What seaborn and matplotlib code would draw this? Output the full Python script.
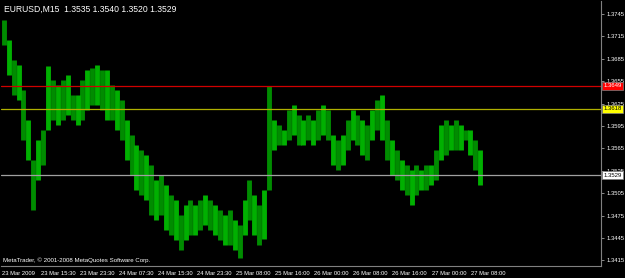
import numpy as np
import pandas as pd
import matplotlib
matplotlib.use("Agg")
import matplotlib.pyplot as plt
import matplotlib.transforms as mtransforms
import seaborn as sns

# ---- data (hourly high / low) ----
highs = [1.3737, 1.3710, 1.3683, 1.3677, 1.3643, 1.3603, 1.3549, 1.3576, 1.3590, 1.3675,
         1.3657, 1.3650, 1.3657, 1.3663, 1.3637, 1.3637, 1.3657, 1.3670, 1.3673, 1.3677,
         1.3670, 1.3670, 1.3650, 1.3643, 1.3630, 1.3603, 1.3583, 1.3569, 1.3563, 1.3556,
         1.3543, 1.3523, 1.3529, 1.3516, 1.3503, 1.3496, 1.3476, 1.3489, 1.3496, 1.3489,
         1.3496, 1.3503, 1.3496, 1.3489, 1.3483, 1.3476, 1.3483, 1.3469, 1.3462, 1.3496,
         1.3523, 1.3503, 1.3489, 1.3509, 1.3648, 1.3603, 1.3596, 1.3590, 1.3616, 1.3623,
         1.3610, 1.3603, 1.3610, 1.3603, 1.3616, 1.3623, 1.3616, 1.3583, 1.3576, 1.3583,
         1.3603, 1.3616, 1.3610, 1.3603, 1.3596, 1.3616, 1.3630, 1.3637, 1.3603, 1.3576,
         1.3563, 1.3549, 1.3543, 1.3536, 1.3543, 1.3536, 1.3543, 1.3543, 1.3563, 1.3596,
         1.3603, 1.3596, 1.3603, 1.3596, 1.3590, 1.3590, 1.3576, 1.3563]
lows = [1.3703, 1.3663, 1.3637, 1.3630, 1.3576, 1.3549, 1.3483, 1.3523, 1.3543, 1.3590,
        1.3603, 1.3596, 1.3603, 1.3610, 1.3603, 1.3596, 1.3603, 1.3616, 1.3623, 1.3623,
        1.3616, 1.3603, 1.3603, 1.3590, 1.3576, 1.3549, 1.3529, 1.3509, 1.3503, 1.3496,
        1.3476, 1.3469, 1.3476, 1.3456, 1.3449, 1.3442, 1.3429, 1.3442, 1.3449, 1.3449,
        1.3456, 1.3462, 1.3456, 1.3449, 1.3442, 1.3436, 1.3436, 1.3429, 1.3418, 1.3449,
        1.3469, 1.3449, 1.3436, 1.3443, 1.3509, 1.3563, 1.3569, 1.3569, 1.3576, 1.3583,
        1.3569, 1.3569, 1.3576, 1.3569, 1.3576, 1.3583, 1.3576, 1.3543, 1.3536, 1.3543,
        1.3563, 1.3576, 1.3569, 1.3556, 1.3549, 1.3576, 1.3590, 1.3576, 1.3549, 1.3529,
        1.3523, 1.3509, 1.3503, 1.3489, 1.3503, 1.3509, 1.3509, 1.3516, 1.3523, 1.3549,
        1.3556, 1.3563, 1.3563, 1.3563, 1.3576, 1.3556, 1.3536, 1.3516]

time_labels = ["23 Mar 2009", "23 Mar 15:30", "23 Mar 23:30", "24 Mar 07:30",
               "24 Mar 15:30", "24 Mar 23:30", "25 Mar 08:00", "25 Mar 16:00",
               "26 Mar 00:00", "26 Mar 08:00", "26 Mar 16:00", "27 Mar 00:00",
               "27 Mar 08:00"]
price_ticks = [1.3415, 1.3445, 1.3475, 1.3505, 1.3535, 1.3565, 1.3595,
               1.3625, 1.3655, 1.3685, 1.3715, 1.3745]
level_lines = [1.3649, 1.3618, 1.3529]
level_names = ["1.3649", "1.3618", "1.3529"]
title_text = "EURUSD,M15  1.3535 1.3540 1.3520 1.3529"
copyright_text = "MetaTrader, \u00a9 2001-2008 MetaQuotes Software Corp."

# ---- build long-form table: each bar is a segment low->high ----
n = len(highs)
bar_pos = np.arange(n) * 4 + 1.5  # 15-minute bar index of each hourly bar
df = pd.DataFrame({
    "bar": np.repeat(np.arange(n), 2),
    "x": np.repeat(bar_pos, 2),
    "price": np.ravel(np.column_stack([lows, highs])),
    "shade": np.repeat(np.arange(n) % 2, 2),
})

sns.set_style("dark", {"axes.facecolor": "black", "figure.facecolor": "black"})
plt.rcParams["font.family"] = ["Liberation Sans", "DejaVu Sans"]

fig = plt.figure(figsize=(6.25, 2.78), dpi=100)
fig.patch.set_facecolor("black")
W, H = 625, 278
ax = fig.add_axes([1 / W, (H - 266) / H, 600 / W, 265 / H])
ax.set_facecolor("black")

sns.lineplot(data=df, x="x", y="price", units="bar", hue="shade", estimator=None,
             palette=["#008c00", "#00b000"], lw=3.5, ax=ax, legend=False)
for ln in ax.lines:
    ln.set_solid_capstyle("butt")

line_cols = ["#d00000", "#b0b000", "#a0a0a0"]
box_cols = ["#ff0000", "#ffff00", "#ffffff"]
txt_cols = ["white", "black", "black"]
bt = mtransforms.blended_transform_factory(ax.transAxes, ax.transData)
for lv, nm, lc, bc, tc in zip(level_lines, level_names, line_cols, box_cols, txt_cols):
    ax.axhline(lv, color=lc, lw=0.9)
    ax.text(1.004, lv, nm, transform=bt, ha="left", va="center", fontsize=4.3,
            color=tc, clip_on=False,
            bbox=dict(boxstyle="square,pad=0.25", fc=bc, ec="#808080", lw=0.5))

ax.set_xlim(-0.8, 487.8)
ax.set_ylim(1.34075, 1.37624)

ax.set_xticks(np.arange(len(time_labels)) * 31.8)
ax.set_xticklabels(time_labels, ha="left")
ax.set_yticks(price_ticks)
ax.set_yticklabels([f"{p:.4f}" for p in price_ticks])
ax.yaxis.tick_right()
ax.tick_params(axis="both", colors="#a0a0a0", labelcolor="white", length=2.5,
               width=0.6, labelsize=4.2, pad=1.5, direction="out")
ax.tick_params(axis="x", pad=1.0)
ax.grid(False)
for s in ax.spines.values():
    s.set_color("#808080")
    s.set_linewidth(0.8)
ax.spines["top"].set_visible(False)
ax.spines["left"].set_visible(False)
ax.set_xlabel("")
ax.set_ylabel("")

ax.text(0.005, 0.985, title_text, transform=ax.transAxes, ha="left", va="top",
        fontsize=6.2, color="white")
ax.text(0.003, 0.012, copyright_text, transform=ax.transAxes, ha="left", va="bottom",
        fontsize=4.4, color="white")

fig.savefig("out.png", dpi=100, facecolor="black")
